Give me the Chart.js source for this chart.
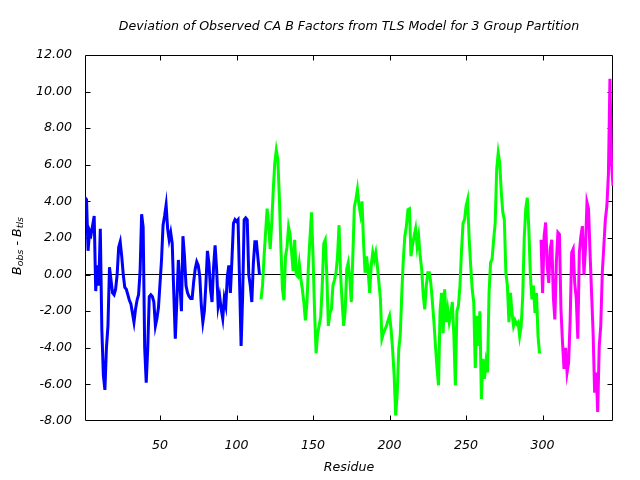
<!DOCTYPE html>
<html><head><meta charset="utf-8">
<script src="https://cdn.jsdelivr.net/npm/chart.js@4.4.1/dist/chart.umd.min.js"></script>
<style>html,body{margin:0;padding:0;background:#fff}</style>
</head><body>
<div style="width:640px;height:480px"><canvas id="c" width="640" height="480"></canvas></div>
<script>
const titleText = "Deviation of Observed CA B Factors from TLS Model for 3 Group Partition";
const xTitleText = "Residue";
const groupNames = ["Group 1", "Group 2", "Group 3"];
const groupColors = ["#0000ff", "#00ff00", "#ff00ff"];
const groupStarts = [1, 116, 299];
const group1Values = [
  4.2, 4.1, 1.3, 2.4, 2.2, 2.7, 3.2, -0.9, 0.5, -0.6,
  2.5, -3.0, -5.5, -6.3, -4.0, -2.8, 0.4, -0.3, -1.0, -1.1,
  -0.8, 0.0, 1.5, 1.8, 1.0, 0.0, -0.7, -0.8, -1.1, -1.4,
  -1.6, -2.1, -2.6, -1.9, -1.4, -1.1, 0.2, 3.3, 2.6, -4.0,
  -5.9, -4.0, -1.2, -1.1, -1.2, -1.5, -2.8, -2.4, -1.8, -0.5,
  0.8, 2.7, 3.2, 3.8, 2.5, 1.9, 2.3, 1.7, -1.0, -3.5,
  -1.5, 0.8, -0.5, -2.0, 2.1, 1.0, -0.6, -1.0, -1.2, -1.3,
  -1.3, -0.4, 0.3, 0.7, 0.5, -0.1, -1.7, -2.6, -2.0, -0.5,
  1.3, 0.6, -0.8, -1.5, 0.4, 1.6, 0.3, -1.7, -1.2, -1.9,
  -2.4, -1.3, -1.7, -0.1, 0.5, -1.0, 0.8, 2.8, 3.0, 2.9,
  3.0, -0.4, -3.9, -1.2, 3.0, 3.1, 3.0, 0.0, -0.6, -1.5,
  0.6, 1.8, 1.8, 0.9, 0.0
];
const group2Values = [
  -1.35, -0.6, 1.0, 2.3, 3.6, 2.7, 1.4, 2.8, 4.6, 6.1,
  6.8, 6.3, 4.2, 1.5, -0.8, -1.4, 1.0, 1.5, 2.6, 2.2,
  1.2, 0.2, 1.9, 0.0, -0.1, 0.6, -0.2, -0.8, -1.5, -2.5,
  -1.6, 0.5, 2.0, 3.4, 1.0, -2.0, -4.3, -3.2, -2.8, -2.3,
  -0.6, 1.7, 1.9, 0.0, -2.8, -2.1, -1.9, -0.6, -0.3, 0.1,
  1.0, 2.7, 0.0, -1.5, -2.8, -2.0, 0.3, 0.65, -0.2, -1.5,
  1.0, 3.7, 4.1, 4.65, 3.8, 3.3, 4.0, 1.75, 0.1, 1.0,
  0.2, -1.0, 0.5, 1.2, 0.8, 1.2, 0.5, -0.4, -1.3, -3.5,
  -3.2, -3.0, -2.8, -2.5, -2.25, -3.0, -4.1, -5.5, -7.7, -6.5,
  -4.1, -3.3, -1.0, 0.85, 2.1, 2.65, 3.55, 3.6, 1.0, 1.6,
  2.1, 2.5, 1.55, 2.1, 1.0, 0.3, -1.15, -1.9, -0.6, 0.1,
  0.1, -0.5, -1.5, -2.6, -3.9, -5.1, -6.05, -2.0, -1.0, -3.2,
  -0.8, -2.6, -1.9, -2.6, -2.2, -1.5, -3.3, -6.05, -2.0, -1.7,
  -0.6, 1.3, 2.8, 3.0, 3.75, 4.1, 2.0, 0.5, -0.8, -1.5,
  -5.1, -2.25, -3.9, -2.0, -6.8, -4.6, -5.7, -4.8, -5.35, -1.0,
  0.65, 0.85, 1.9, 2.8, 5.75, 6.65, 6.1, 4.5, 3.4, 3.0,
  0.1, -0.6, -2.6, -1.0, -2.1, -2.8, -2.5, -2.7, -2.6, -3.35,
  -2.8, -1.2, 2.0, 3.6, 4.2, 2.5, 0.0, -1.35, -0.6, -2.1,
  -1.0, -3.35, -4.3
];
const group3Values = [
  1.9, -1.0, 2.1, 2.85, 0.5, -0.45, 1.4, 1.9, -1.2, -2.45,
  0.7, 2.3, 2.2, -1.9, -3.7, -5.15, -4.0, -5.35, -4.8, -2.5,
  1.2, 1.4, -0.5, -1.3, -3.5, 1.2, 2.1, 2.65, 0.0, 1.4,
  3.95, 3.6, 1.2, -1.0, -3.2, -6.45, -5.35, -7.5, -3.9, -2.8,
  0.1, 1.55, 3.0, 3.75, 5.5, 10.7, 6.1, 4.85
];
const xTickValues = [50, 100, 150, 200, 250, 300];
const yTickValues = [-8, -6, -4, -2, 0, 2, 4, 6, 8, 10, 12];
const xMin = 1, xMax = 346, yMin = -8, yMax = 12;

const groupValues = [group1Values, group2Values, group3Values];
const FONT = '"DejaVu Sans", sans-serif';
const FS = 12.6;

const datasets = groupValues.map((vals, g) => ({
  label: groupNames[g],
  data: vals.map((v, i) => ({ x: groupStarts[g] + i, y: v })),
  borderColor: groupColors[g],
  backgroundColor: groupColors[g],
  borderWidth: 3,
  pointRadius: 0,
  tension: 0,
  fill: false
}));

const decor = {
  id: 'decor',
  beforeDatasetsDraw(chart) {
    const { ctx, chartArea: a, scales: { x, y } } = chart;
    const L = Math.round(a.left) + 0.5, R = Math.round(a.right) - 0.5;
    const T = Math.round(a.top) + 0.5, B = Math.round(a.bottom) - 0.5;
    ctx.save();
    ctx.strokeStyle = '#000';
    ctx.lineWidth = 1;
    ctx.beginPath();
    ctx.rect(L, T, R - L, B - T);
    const tl = 5;
    yTickValues.forEach(v => {
      if (v === yMin || v === yMax) return;
      const py = Math.round(y.getPixelForValue(v)) + 0.5;
      ctx.moveTo(L, py); ctx.lineTo(L + tl, py);
      ctx.moveTo(R, py); ctx.lineTo(R - tl, py);
    });
    xTickValues.forEach(v => {
      const px = Math.round(x.getPixelForValue(v)) + 0.5;
      ctx.moveTo(px, B); ctx.lineTo(px, B - tl);
      ctx.moveTo(px, T); ctx.lineTo(px, T + tl);
    });
    ctx.stroke();
    ctx.restore();
  },
  afterDraw(chart) {
    const { ctx, chartArea: a } = chart;
    const cx = (a.left + a.right) / 2;
    ctx.save();
    ctx.fillStyle = '#000';
    ctx.textAlign = 'center';
    ctx.textBaseline = 'middle';
    ctx.font = 'italic ' + FS + 'px ' + FONT;
    ctx.fillText(titleText, cx, 27);
    ctx.fillText(xTitleText, cx, 468);
    const parts = [
      { t: 'B', sub: false }, { t: 'obs', sub: true },
      { t: ' - ', sub: false },
      { t: 'B', sub: false }, { t: 'tls', sub: true }
    ];
    const mainFont = 'italic ' + FS + 'px ' + FONT, subFont = 'italic 9.5px ' + FONT;
    let total = 0;
    parts.forEach(p => { ctx.font = p.sub ? subFont : mainFont; p.w = ctx.measureText(p.t).width; total += p.w; });
    ctx.translate(16, 246);
    ctx.rotate(-Math.PI / 2);
    ctx.textAlign = 'left';
    ctx.textBaseline = 'alphabetic';
    let px = -total / 2;
    parts.forEach(p => {
      ctx.font = p.sub ? subFont : mainFont;
      ctx.fillText(p.t, px, p.sub ? 6.5 : 4.5);
      px += p.w;
    });
    ctx.restore();
  }
};

new Chart(document.getElementById('c'), {
  type: 'line',
  data: { datasets },
  options: {
    responsive: false,
    devicePixelRatio: 1,
    animation: false,
    layout: { padding: { top: 55, right: 27, left: 0, bottom: 0 } },
    plugins: { legend: { display: false }, tooltip: { enabled: false }, title: { display: false } },
    scales: {
      x: {
        type: 'linear', min: xMin, max: xMax,
        afterBuildTicks: s => { s.ticks = xTickValues.map(v => ({ value: v })); },
        afterFit: s => { s.height = 59; },
        grid: { display: false, drawTicks: false },
        border: { display: false },
        ticks: { color: '#000', font: { family: FONT, size: FS, style: 'italic' }, padding: 17, maxRotation: 0, autoSkip: false }
      },
      y: {
        type: 'linear', min: yMin, max: yMax,
        afterBuildTicks: s => { s.ticks = yTickValues.map(v => ({ value: v })); },
        afterFit: s => { s.width = 85; },
        grid: {
          drawTicks: false,
          color: c => (c.tick && c.tick.value === 0) ? '#000' : 'rgba(0,0,0,0)',
          lineWidth: 1
        },
        border: { display: false },
        ticks: { color: '#000', font: { family: FONT, size: FS, style: 'italic' }, padding: 13, callback: v => Number(v).toFixed(2) }
      }
    }
  },
  plugins: [decor]
});
</script>
</body></html>
